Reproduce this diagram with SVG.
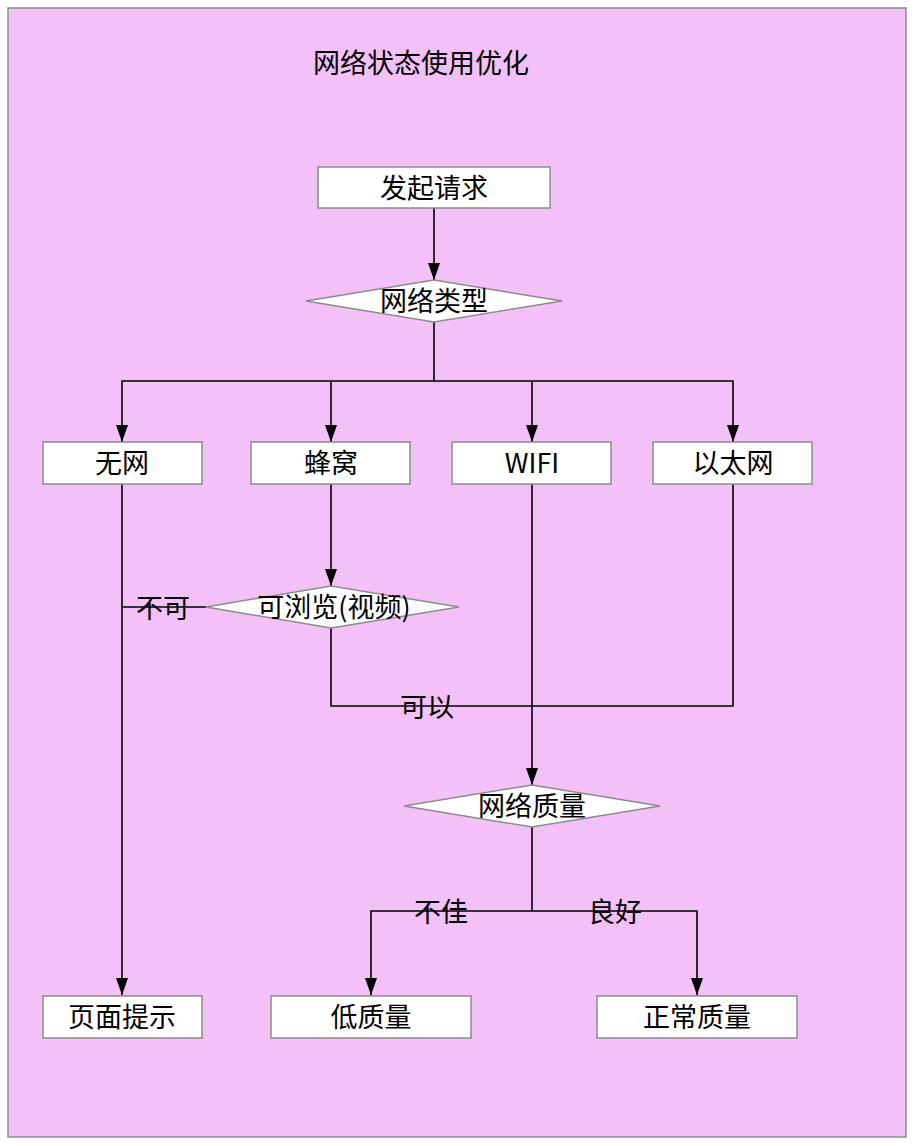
<svg xmlns="http://www.w3.org/2000/svg" width="916" height="1146" viewBox="0 0 916 1146">
<defs>
<marker id="ah" markerWidth="17" markerHeight="12" refX="17" refY="6" orient="auto" markerUnits="userSpaceOnUse" viewBox="0 0 17 12">
<path d="M0,0 L17,6 L0,12 Z" fill="#000"/>
</marker>
<style>
.bg{fill:#f3c0f7;stroke:#8c8c8c;stroke-width:1.5}
.box{fill:#fff;stroke:#8c8c8c;stroke-width:1.5}
.t{font-family:"Noto Sans CJK SC","Liberation Sans",sans-serif;font-size:27px;fill:#000;text-anchor:middle;dominant-baseline:central}
.c{fill:none;stroke:#000;stroke-width:1.6}
</style>
</defs>
<rect class="bg" x="8" y="8" width="898" height="1129"/>
<text class="t" x="421" y="61">网络状态使用优化</text>
<g id="connectors">
<path class="c" d="M434,208 V280" marker-end="url(#ah)"/>
<path class="c" d="M434,322 V381 H122 V442" marker-end="url(#ah)"/>
<path class="c" d="M331,381 V442" marker-end="url(#ah)"/>
<path class="c" d="M532,381 V442" marker-end="url(#ah)"/>
<path class="c" d="M434,381 H733 V442" marker-end="url(#ah)"/>
<path class="c" d="M122,484 V995" marker-end="url(#ah)"/>
<path class="c" d="M331,484 V586" marker-end="url(#ah)"/>
<path class="c" d="M206,607 H122"/>
<path class="c" d="M331,628 V706 H733 V484"/>
<path class="c" d="M532,484 V785" marker-end="url(#ah)"/>
<path class="c" d="M532,827 V911 H371 V995" marker-end="url(#ah)"/>
<path class="c" d="M532,911 H697 V995" marker-end="url(#ah)"/>
<text class="t" x="163" y="606">不可</text>
<text class="t" x="427" y="705">可以</text>
<text class="t" x="441" y="910">不佳</text>
<text class="t" x="615" y="910">良好</text>
</g>
<g id="start"><rect class="box" x="318" y="167" width="232" height="41"/><text class="t" x="434" y="186">发起请求</text></g>
<g id="nettype"><polygon class="box" points="306,301 434,280 562,301 434,322"/><text class="t" x="434" y="299">网络类型</text></g>
<g id="nonet"><rect class="box" x="43" y="442" width="159" height="42"/><text class="t" x="122" y="461">无网</text></g>
<g id="cell"><rect class="box" x="251" y="442" width="159" height="42"/><text class="t" x="331" y="461">蜂窝</text></g>
<g id="wifi"><rect class="box" x="452" y="442" width="159" height="42"/><text class="t" x="532" y="461">WIFI</text></g>
<g id="eth"><rect class="box" x="653" y="442" width="159" height="42"/><text class="t" x="733" y="461">以太网</text></g>
<g id="browse"><polygon class="box" points="206,607 331,586 459,607 331,628"/><text class="t" x="334" y="605">可浏览(视频)</text></g>
<g id="quality"><polygon class="box" points="404,806 532,785 660,806 532,827"/><text class="t" x="532" y="804">网络质量</text></g>
<g id="tip"><rect class="box" x="43" y="996" width="159" height="42"/><text class="t" x="122" y="1015">页面提示</text></g>
<g id="low"><rect class="box" x="271" y="996" width="200" height="42"/><text class="t" x="371" y="1015">低质量</text></g>
<g id="normal"><rect class="box" x="597" y="996" width="200" height="42"/><text class="t" x="697" y="1015">正常质量</text></g>
</svg>
